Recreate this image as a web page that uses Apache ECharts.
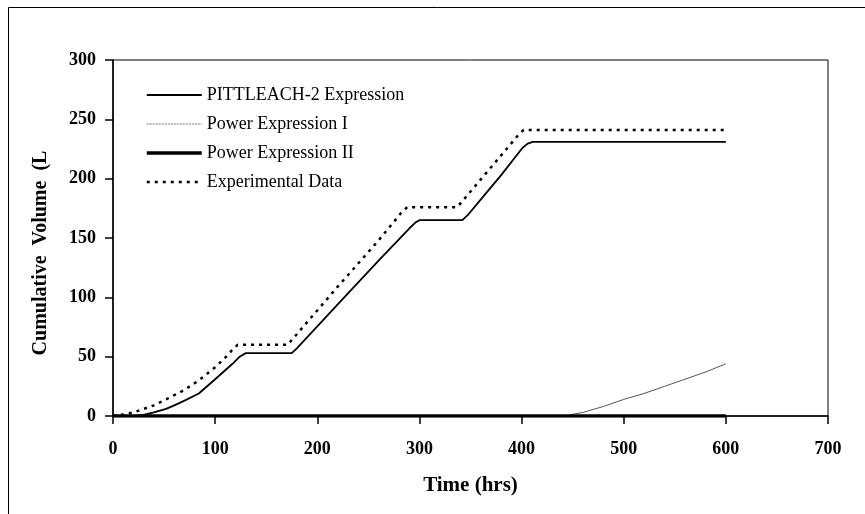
<!DOCTYPE html>
<html>
<head>
<meta charset="utf-8">
<script src="https://cdn.jsdelivr.net/npm/echarts@6/dist/echarts.min.js"></script>
<style>html,body{margin:0;padding:0;background:#fff}#c{width:865px;height:514px}</style>
</head>
<body>
<div id="c"></div>
<script>
// ---- data ----
var pittTime = [0, 20, 30, 40, 52, 60, 70, 84, 100, 117, 124, 130, 175, 180, 220, 260, 290, 296, 300, 342, 347, 362, 380, 401, 406, 411, 600];
var pittVol  = [0, 0, 1, 3, 6, 9, 13, 19, 31, 44, 50, 53, 53, 57, 94, 131, 158, 163, 165, 165, 169, 184.5, 203, 226, 229.5, 231, 231];

var pow1Time = [447, 460, 480, 500, 520, 540, 560, 580, 600];
var pow1Vol  = [1, 3, 8, 14, 19, 25, 31, 37, 44];

var pow2Time = [0, 100, 200, 300, 400, 500, 600];
var pow2Vol  = [0, 0, 0, 0, 0, 0, 0];

var expTime = [0, 12, 20, 30, 40, 52, 70, 84, 100, 112, 117, 122, 171, 176, 220, 260, 282, 288, 337, 343, 398, 402, 600];
var expVol  = [0, 1.5, 3, 6, 9, 14, 22, 30, 41, 51, 56, 60, 60, 65, 109, 148, 171, 176, 176, 182, 238, 241, 241];

var seriesNames = ['PITTLEACH-2 Expression', 'Power Expression I', 'Power Expression II', 'Experimental Data'];
var xTicks = {min: 0, max: 700, interval: 100};
var yTicks = {min: 0, max: 300, interval: 50};

function pairs(t, v) { return t.map(function (x, i) { return [x, v[i]]; }); }

var FONT = '"Liberation Serif", "Times New Roman", serif';
var chart = echarts.init(document.getElementById('c'), null, {renderer: 'canvas'});
chart.setOption({
  animation: false,
  backgroundColor: '#ffffff',
  graphic: [{
    type: 'rect', left: 6, top: 5, silent: true,
    shape: {width: 900, height: 560},
    style: {fill: 'none', stroke: '#000', lineWidth: 1}
  }],
  grid: {left: 113, right: 37, top: 60, bottom: 98, show: true, borderColor: '#000', borderWidth: 1, backgroundColor: 'transparent'},
  legend: {
    orient: 'vertical', left: 145, top: 86, padding: 0,
    itemWidth: 55, itemHeight: 14, itemGap: 11,
    data: [
      {name: seriesNames[0]},
      {name: seriesNames[1], lineStyle: {type: [2, 1], color: '#777', width: 1}},
      {name: seriesNames[2]},
      {name: seriesNames[3]}
    ],
    itemStyle: {opacity: 0},
    lineStyle: {width: 'inherit'},
    textStyle: {fontFamily: FONT, fontSize: 18, color: '#000', lineHeight: 18}
  },
  xAxis: {
    type: 'value', min: xTicks.min, max: xTicks.max, interval: xTicks.interval,
    name: 'Time (hrs)', nameLocation: 'middle', nameGap: 59,
    nameTextStyle: {fontFamily: FONT, fontSize: 21, fontWeight: 'bold', color: '#000'},
    axisLine: {onZero: false, lineStyle: {color: '#000', width: 1.5}},
    axisTick: {show: true, inside: false, length: 8, lineStyle: {color: '#000', width: 1.5}},
    axisLabel: {fontFamily: FONT, fontSize: 18, fontWeight: 'bold', color: '#000', margin: 24},
    splitLine: {show: false}
  },
  yAxis: {
    type: 'value', min: yTicks.min, max: yTicks.max, interval: yTicks.interval,
    name: 'Cumulative  Volume  (L', nameLocation: 'middle', nameGap: 62,
    nameTextStyle: {fontFamily: FONT, fontSize: 20, fontWeight: 'bold', color: '#000', padding: [0, 30, 0, 0]},
    axisLine: {onZero: false, lineStyle: {color: '#000', width: 1.5}},
    axisTick: {show: true, inside: false, length: 8, lineStyle: {color: '#000', width: 1.5}},
    axisLabel: {fontFamily: FONT, fontSize: 18, fontWeight: 'bold', color: '#000', margin: 17},
    splitLine: {show: false}
  },
  series: [
    {name: seriesNames[0], type: 'line', symbol: 'none', showSymbol: false, data: pairs(pittTime, pittVol),
     lineStyle: {color: '#000', width: 1.8, type: 'solid'}, itemStyle: {color: '#000'}, z: 3},
    {name: seriesNames[1], type: 'line', symbol: 'none', showSymbol: false, data: pairs(pow1Time, pow1Vol),
     lineStyle: {color: '#555', width: 1, type: 'solid'}, itemStyle: {color: '#555'}, z: 2},
    {name: seriesNames[2], type: 'line', symbol: 'none', showSymbol: false, data: pairs(pow2Time, pow2Vol),
     lineStyle: {color: '#000', width: 3.5, type: 'solid'}, itemStyle: {color: '#000'}, z: 2},
    {name: seriesNames[3], type: 'line', symbol: 'none', showSymbol: false, data: pairs(expTime, expVol),
     lineStyle: {color: '#000', width: 2.5, type: [3, 5]}, itemStyle: {color: '#000'}, z: 3}
  ]
});
</script>
</body>
</html>
